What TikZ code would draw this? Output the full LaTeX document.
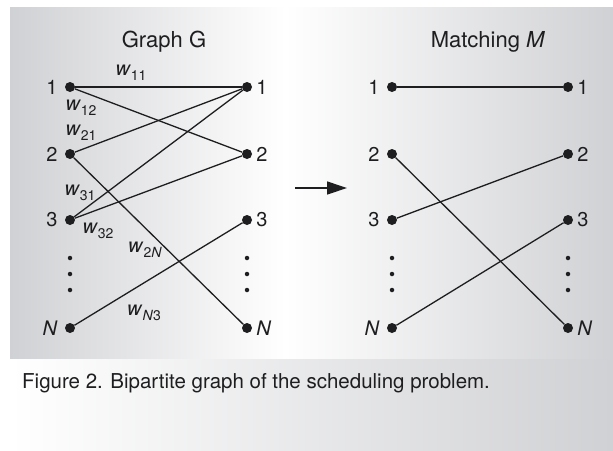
\documentclass[tikz,border=0pt]{standalone}
\usepackage{fontspec}
\setmainfont{TeX Gyre Heros}
\usetikzlibrary{arrows.meta}
\definecolor{ink}{RGB}{30,30,32}
\definecolor{panelgray}{RGB}{208,209,212}
\newcommand{\wgt}[1]{\textit{w}{\fontsize{14}{14}\selectfont\raisebox{-4.5pt}{#1}}}
\begin{document}
\begin{tikzpicture}[
    x=1pt, y=-1pt,
    vtx/.style={circle, fill=ink, inner sep=0pt, minimum size=10pt},
    dotv/.style={circle, fill=ink, inner sep=0pt, minimum size=4.5pt},
    num/.style={text=ink, inner sep=0pt, font=\fontsize{20}{20}\selectfont},
    lnum/.style={num, label distance=7pt},
    rnum/.style={num, label distance=4pt},
    wlbl/.style={text=ink, inner sep=0pt, font=\fontsize{20}{20}\selectfont},
    edge/.style={draw=ink, line width=1.3pt},
    title/.style={text=ink, inner sep=0pt, font=\fontsize{22}{22}\selectfont, anchor=base}
]
    \useasboundingbox (0,0) rectangle (613,450);
    % background
    \fill[white] (0,0) rectangle (613,450);
    \shade[left color=panelgray, right color=white] (10,7) rectangle (285,359);
    \shade[left color=white, right color=panelgray] (285,7) rectangle (613,359);
    \shade[left color=white, right color=panelgray] (10,359) rectangle (613,450);

    % titles
    \node[title] (tg) at (164,47) {Graph G};
    \node[title] (tm) at (488,47) {Matching \textit{M}};

    % graph G, left side
    \node[vtx, label={[lnum]left:1}] (g1) at (70,87) {};
    \node[vtx, label={[lnum]left:2}] (g2) at (70,154) {};
    \node[vtx, label={[lnum]left:3}] (g3) at (70,220) {};
    \node[vtx, label={[lnum]left:\textit{N}}] (gN) at (70,328) {};
    \node[dotv] (gd1) at (70,258) {};
    \node[dotv] (gd2) at (70,274) {};
    \node[dotv] (gd3) at (70,290) {};

    % graph G, right side
    \node[vtx, label={[rnum]right:1}] (h1) at (247,87) {};
    \node[vtx, label={[rnum]right:2}] (h2) at (247,154) {};
    \node[vtx, label={[rnum]right:3}] (h3) at (247,220) {};
    \node[vtx, label={[rnum]right:\textit{N}}] (hN) at (247,328) {};
    \node[dotv] (hd1) at (247,258) {};
    \node[dotv] (hd2) at (247,274) {};
    \node[dotv] (hd3) at (247,290) {};

    % edges of G
    \draw[edge] (g1) -- (h1);
    \draw[edge] (g1) -- (h2);
    \draw[edge] (g2) -- (h1);
    \draw[edge] (g2) -- (hN);
    \draw[edge] (g3) -- (h1);
    \draw[edge] (g3) -- (h2);
    \draw[edge] (gN) -- (h3);

    % weights
    \node[wlbl] (w11) at (131,73) {\wgt{11}};
    \node[wlbl] (w12) at (81,108) {\wgt{12}};
    \node[wlbl] (w21) at (81,133) {\wgt{21}};
    \node[wlbl] (w31) at (80,193) {\wgt{31}};
    \node[wlbl] (w32) at (98,231) {\wgt{32}};
    \node[wlbl] (w2N) at (145,250) {\wgt{2\textit{N}}};
    \node[wlbl] (wN3) at (144,313) {\wgt{\textit{N}3}};

    % arrow
    \coordinate (as) at (295,188);
    \coordinate (ae) at (347,188);
    \draw[edge, -{Triangle[length=20pt, width=13pt]}] (as) -- (ae);

    % matching M, left side
    \node[vtx, label={[lnum]left:1}] (m1) at (392,87) {};
    \node[vtx, label={[lnum]left:2}] (m2) at (392,154) {};
    \node[vtx, label={[lnum]left:3}] (m3) at (392,220) {};
    \node[vtx, label={[lnum]left:\textit{N}}] (mN) at (392,328) {};
    \node[dotv] (md1) at (392,258) {};
    \node[dotv] (md2) at (392,274) {};
    \node[dotv] (md3) at (392,290) {};

    % matching M, right side
    \node[vtx, label={[rnum]right:1}] (n1) at (568,87) {};
    \node[vtx, label={[rnum]right:2}] (n2) at (568,154) {};
    \node[vtx, label={[rnum]right:3}] (n3) at (568,220) {};
    \node[vtx, label={[rnum]right:\textit{N}}] (nN) at (568,328) {};
    \node[dotv] (nd1) at (568,258) {};
    \node[dotv] (nd2) at (568,274) {};
    \node[dotv] (nd3) at (568,290) {};

    % edges of M
    \draw[edge] (m1) -- (n1);
    \draw[edge] (m2) -- (nN);
    \draw[edge] (m3) -- (n2);
    \draw[edge] (mN) -- (n3);

    % caption
    \node[anchor=base west, text=ink, inner sep=0pt, font=\fontsize{20.5}{22}\selectfont] (cap) at (22,388)
        {Figure 2. Bipartite graph of the scheduling problem.};
\end{tikzpicture}
\end{document}
